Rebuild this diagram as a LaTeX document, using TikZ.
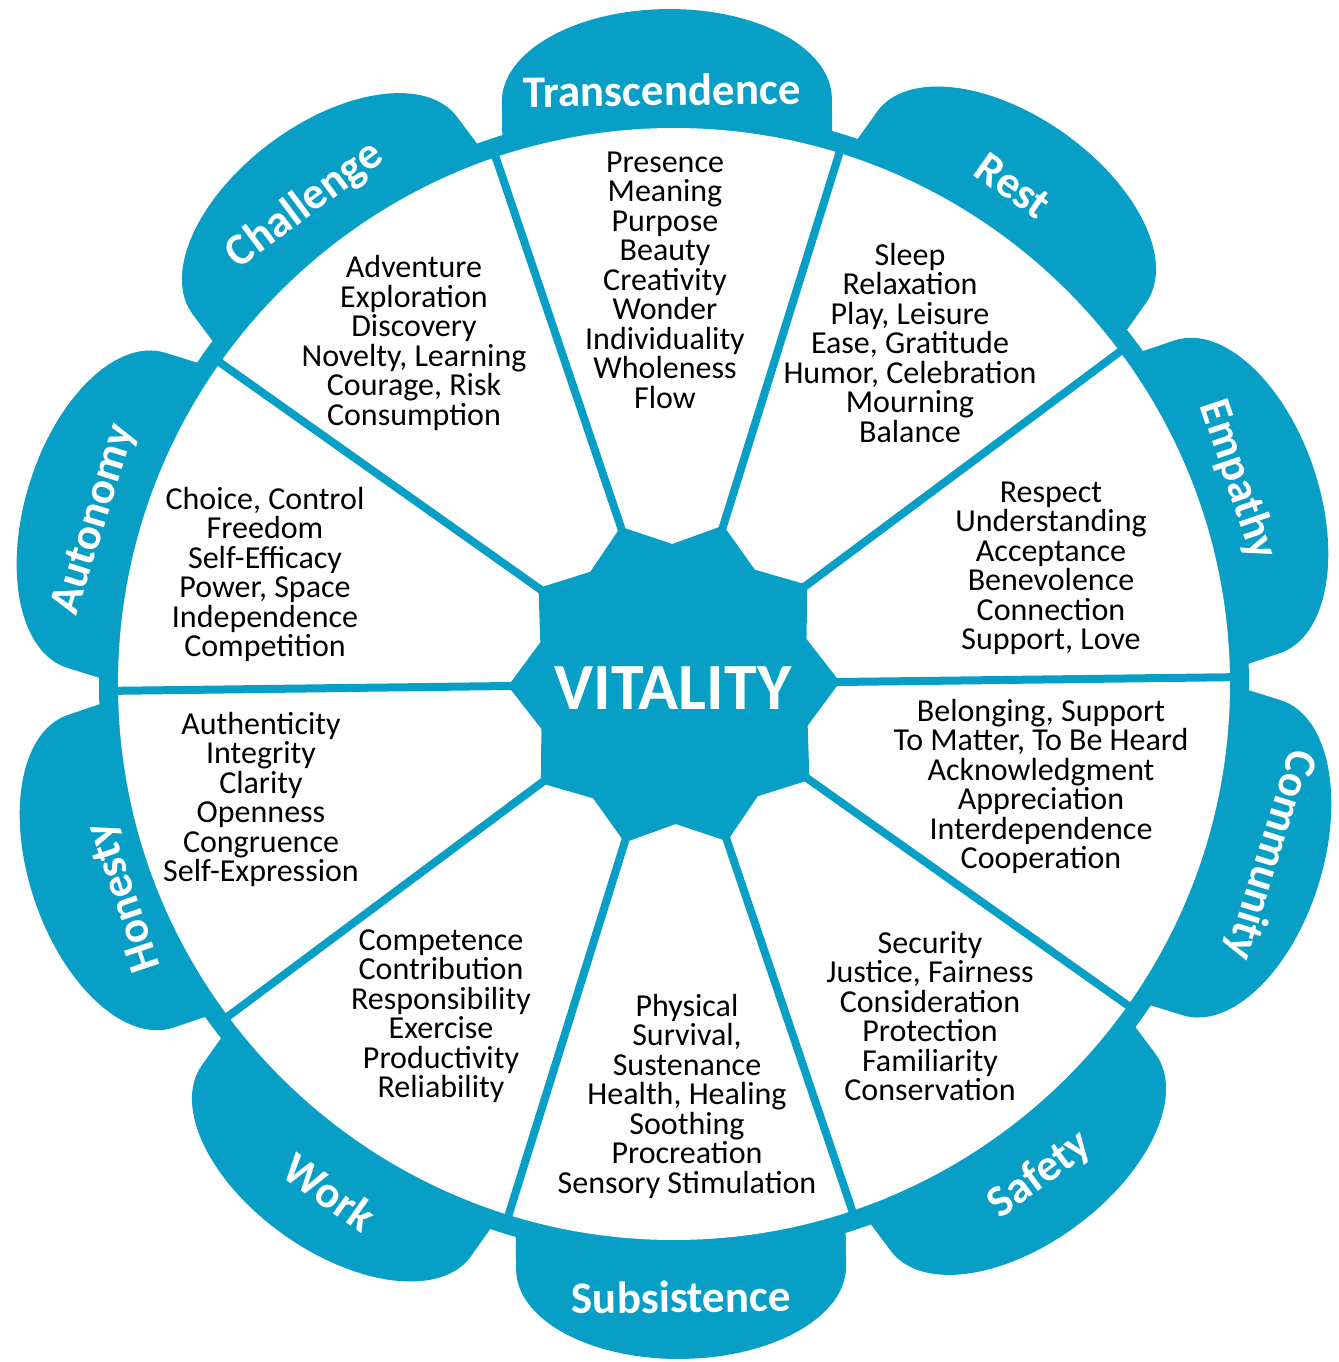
\documentclass[tikz,border=0pt]{standalone}
\usepackage{fontspec}
\setmainfont{Carlito}
\definecolor{vblue}{RGB}{8,159,198}
\begin{document}
\begin{tikzpicture}[x=0.5pt,y=0.5pt,
  plabel/.style={text=white,font=\fontsize{22.5}{22.5}\selectfont\bfseries,inner sep=0pt},
  body/.style={align=center,font=\fontsize{16}{14.75}\selectfont,inner sep=0pt},
  spoke/.style={draw=vblue,line width=4pt}]
\useasboundingbox (-674,-678) rectangle (665,684);
\begin{scope}[rotate=0.7]
  \foreach \a in {90,54,18,-18,-54,-90,-126,-162,162,126}{
    \fill[vblue,rotate=\a-90] (-165,500) -- (-165,584)
      arc[start angle=180,end angle=0,x radius=165,y radius=91] -- (165,500) -- cycle;
  }
  \fill[vblue] (0,0) circle[radius=575];
  \fill[white] (0,0) circle[radius=556];
  \foreach \k in {0,...,9}{
    \coordinate (sin\k) at ({36*\k}:150);
    \coordinate (sout\k) at ({36*\k}:562);
    \draw[spoke] (sin\k) -- (sout\k);
  }
  \fill[vblue] (0:166) \foreach \k in {0,...,9}{ -- ({36*\k+18}:140) -- ({36*\k+36}:166)} -- cycle;
\end{scope}
\node[text=white,font=\fontsize{33}{33}\selectfont\bfseries,inner sep=0pt] (vit) at (-1,-4) {VITALITY};
% petal labels
\node[plabel,rotate=0.7] (ltr) at (-12,594) {Transcendence};
\node[plabel,rotate=-35.3] (lre) at (339,498) {Rest};
\node[plabel,rotate=-71.3] (lem) at (564,204) {Empathy};
\node[plabel,rotate=-107.3] (lco) at (596,-171) {Community};
\node[plabel,rotate=36.7] (lsa) at (366,-491) {Safety};
\node[plabel,rotate=0.7] (lsu) at (7,-613) {Subsistence};
\node[plabel,rotate=-35.3] (lwo) at (-344,-508) {Work};
\node[plabel,rotate=108.7] (lho) at (-549,-213) {Honesty};
\node[plabel,rotate=72.7] (lau) at (-579,164) {Autonomy};
\node[plabel,rotate=36.7] (lch) at (-369,479) {Challenge};
% sector texts
\node[body] (ttr) at (-9,404) {Presence\\Meaning\\Purpose\\Beauty\\Creativity\\Wonder\\Individuality\\Wholeness\\Flow};
\node[body] (tch) at (-260,341) {Adventure\\Exploration\\Discovery\\Novelty, Learning\\Courage, Risk\\Consumption};
\node[body] (tre) at (236,341) {Sleep\\Relaxation\\Play, Leisure\\Ease, Gratitude\\Humor, Celebration\\Mourning\\Balance};
\node[body] (tem) at (377,115.5) {Respect\\Understanding\\Acceptance\\Benevolence\\Connection\\Support, Love};
\node[body] (tau) at (-409,109.5) {Choice, Control\\Freedom\\Self-Efficacy\\Power, Space\\Independence\\Competition};
\node[body] (tho) at (-413,-115.5) {Authenticity\\Integrity\\Clarity\\Openness\\Congruence\\Self-Expression};
\node[body] (tco) at (367,-102.5) {Belonging, Support\\To Matter, To Be Heard\\Acknowledgment\\Appreciation\\Interdependence\\Cooperation};
\node[body] (two) at (-233,-332) {Competence\\Contribution\\Responsibility\\Exercise\\Productivity\\Reliability};
\node[body] (tsu) at (13,-412) {Physical\\Survival,\\Sustenance\\Health, Healing\\Soothing\\Procreation\\Sensory Stimulation};
\node[body] (tsa) at (256,-332) {Security\\Justice, Fairness\\Consideration\\Protection\\Familiarity\\Conservation};
\end{tikzpicture}
\end{document}
